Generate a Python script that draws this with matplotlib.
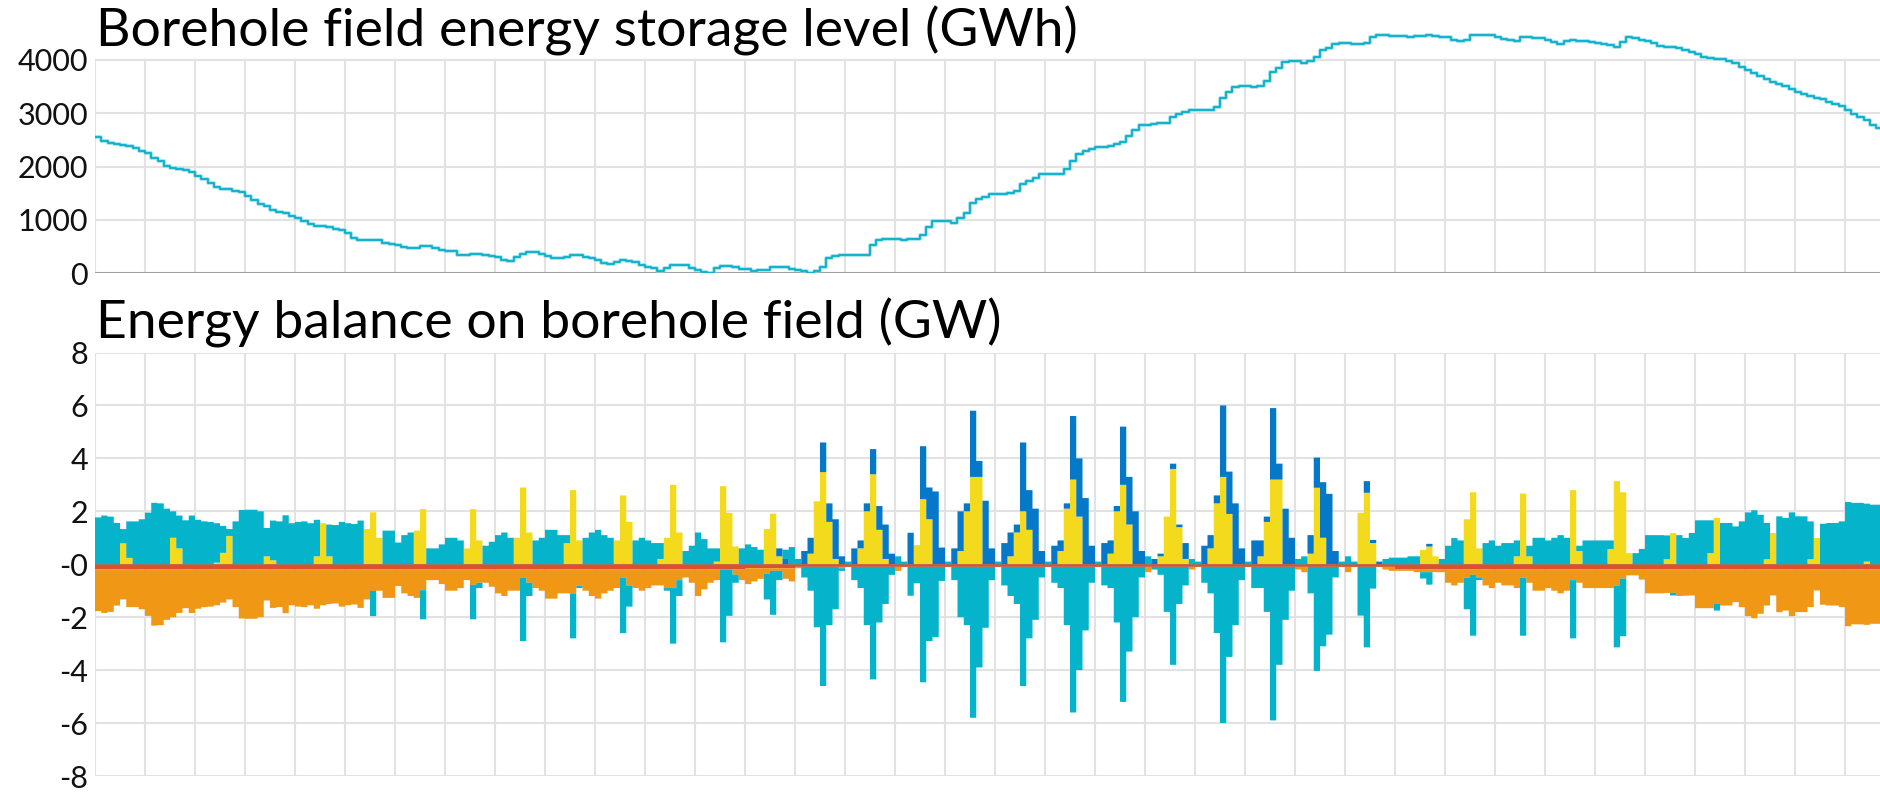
import numpy as np
import matplotlib
matplotlib.use("Agg")
import matplotlib.pyplot as plt

plt.rcParams['font.family'] = ['Lato', 'DejaVu Sans']

# ---------------- data ----------------
# storage level (GWh), one value per 3-hour step
storage = [
2550,2490,2450,2425,2400,2390,2345,2300,2255,2170,
2098,2016,1980,1953,1930,1909,1827,1760,1701,1625,
1590,1575,1545,1524,1449,1367,1300,1260,1184,1150,
1134,1080,1039,976,930,882,880,876,840,819,
756,661,617,617,630,630,567,545,523,490,
472,472,504,504,472,441,425,409,334,350,
365,365,346,320,302,252,239,300,365,391,
391,359,320,283,283,300,346,346,315,290,
252,189,176,208,252,230,208,157,126,94,
44,107,157,157,150,94,63,31,13,94,
139,130,113,90,76,50,55,63,113,113,
113,80,63,50,13,50,126,283,320,334,
334,334,340,346,535,630,640,643,640,630,
635,643,724,863,976,980,989,945,1039,1134,
1323,1386,1440,1493,1490,1480,1510,1543,1669,1732,
1795,1858,1865,1871,1871,1953,2110,2236,2290,2331,
2362,2362,2394,2420,2457,2583,2690,2784,2790,2803,
2816,2816,2929,2992,3030,3055,3055,3055,3055,3118,
3294,3402,3496,3505,3515,3496,3515,3603,3767,3855,
3968,3987,3987,3950,3981,4063,4189,4233,4296,4315,
4315,4300,4296,4328,4422,4460,4460,4441,4441,4441,
4422,4441,4450,4460,4441,4430,4422,4384,4359,4384,
4460,4460,4460,4460,4428,4390,4370,4359,4422,4422,
4415,4409,4372,4346,4302,4359,4378,4365,4359,4334,
4315,4300,4283,4252,4346,4422,4409,4384,4365,4315,
4265,4252,4240,4220,4189,4157,4107,4063,4031,4020,
4013,3981,3937,3874,3811,3748,3698,3641,3578,3559,
3515,3465,3402,3370,3320,3294,3263,3213,3181,3137,
3068,2992,2929,2866,2784,2721]

# energy balance (GW), one value per 3-hour step
yellow = [
0,0,0,0,0.79,0.24,0,0,
0,0,0,0,1.0,0.6,0,0,
0,0,0,0.06,0.43,1.07,0,0,
0,0,0,0.3,0.15,0,0,0,
0,0,0,0.3,1.55,0.3,0,0,
0,0,0,1.33,1.96,1.0,0,0,
0,0,0,1.27,2.08,0,0,0,
0,0,0,0.6,2.08,0.9,0,0,
0,0,0,1.0,2.9,1.2,0,0,
0,0,0,0.8,2.8,0.9,0,0,
0,0,0,0.9,2.6,1.6,0,0,
0,0,0.2,1.0,3.0,1.2,0,0,
0,0,0,0.1,2.95,1.94,0.67,0,
0,0,0,1.33,1.91,0.3,0,0,
0,0,0.4,2.38,3.48,1.6,0.2,0,
0,0,0.6,2.0,3.4,1.3,0.2,0,
0,0,0,0.72,2.46,1.7,0,0,
0,0,0.5,2.0,3.3,3.3,0,0,
0,0,0.3,1.2,2.0,1.3,0,0,
0,0,0.5,2.1,3.2,1.8,0,0,
0,0,0.4,2.0,3.0,1.5,0,0,
0,0,0.3,1.8,3.6,1.4,0.2,0,
0,0,0.6,2.3,3.3,1.9,0,0,
0,0,0.3,1.6,3.2,3.2,0,0,
0,0,0.4,2.89,1.0,0,0,0,
0,0,1.94,2.7,0.8,0,0,0,
0,0,0,0,0.54,0.67,0.3,0,
0,0,0,1.7,2.72,0.6,0,0,
0,0,0,0.3,2.67,0.3,0,0,
0,0,0,0,2.8,0.5,0,0,
0,0,0.57,3.14,2.72,0.42,0,0,
0,0,0,0.19,1.18,0,0,0,
0,0,0.42,1.75,0,0,0,0,
0,0,0,0.19,1.18,0,0,0,
0,0,0.19,0.99,0,0,0,0,
0,0,0,0.1,0,0]

blue = [0]*104 + [
0,0,0,0,0,0.3,0.2,0,
0,0.5,0.6,0,1.12,0.7,1.5,0.3,
0,0.6,0.3,0.3,0.95,0.9,1.3,0.4,
0,0,1.19,0,2.0,1.2,2.75,0.63,
0,0.6,1.5,0.3,2.5,0.6,2.4,0.6,
0,0.8,0.9,0.3,2.6,1.5,2.1,0.5,
0,0.7,0.4,0.2,2.4,2.2,2.5,0.7,
0,0.8,0.5,0.2,2.2,1.8,2.0,0.5,
0,0.2,0.1,0,0.2,0.1,0.6,0,
0,0.7,0.5,0.3,2.7,1.6,2.3,0.6,
0,0.9,0.6,0.2,2.7,0.6,2.1,1.0,
0,0,0.7,1.14,2.1,2.66,0.5,0,
0,0,0,0.44,0.12,0.1,0,0,
0,0,0,0,0,0.1,0,0] + [0]*70

red = [-0.2]*104 + [-0.15]*8 + [-0.1]*96 + [-0.2]*78

orange = [
-1.57,-1.64,-1.60,-1.36,-1.13,-1.42,-1.42,-1.50,
-1.75,-2.12,-2.10,-1.90,-1.80,-1.64,-1.46,-1.64,
-1.48,-1.42,-1.40,-1.35,-1.25,-1.13,-1.42,-1.85,
-1.86,-1.86,-1.80,-1.17,-1.45,-1.42,-1.65,-1.35,
-1.40,-1.42,-1.35,-1.48,-1.35,-1.30,-1.28,-1.40,
-1.35,-1.32,-1.45,-1.13,-0.81,-0.80,-1.07,-1.07,
-0.62,-0.90,-1.00,-1.07,-0.78,-0.40,-0.40,-0.55,
-0.80,-0.80,-0.70,-0.40,-0.58,-0.50,-0.50,-0.65,
-0.90,-1.00,-0.80,-0.80,-0.30,-0.50,-0.70,-0.80,
-1.10,-1.10,-0.90,-0.90,-0.90,-0.60,-0.80,-1.00,
-1.10,-0.90,-0.80,-0.70,-0.30,-0.60,-0.70,-0.80,
-0.70,-0.60,-0.60,-0.70,-0.70,-0.40,-0.30,-0.50,
-1.00,-0.75,-0.50,-0.40,0,0,-0.20,-0.40,
-0.60,-0.50,-0.40,-0.20,-0.10,-0.10,-0.40,-0.50,
-0.05,0,0,0,0,0,0,-0.05,
0,0,0,0,0,0,0,0,
-0.15,0,0,0,0,0,0,0,
0,0,0,0,0,0,0,0,
0,0,0,0,0,0,0,0,
0,0,0,0,0,0,0,0,
0,0,0,0,0,0,0,0,
-0.2,0,0,0,0,0,0,-0.1,
0,0,0,0,0,0,0,0,
0,0,0,0,0,0,0,0,
-0.1,-0.2,0,0,0,0,0,0,
-0.2,0,0,0,0,0,-0.1,-0.15,
-0.05,-0.05,-0.05,-0.1,-0.1,-0.1,-0.1,-0.1,
-0.5,-0.6,-0.5,-0.3,-0.2,-0.3,-0.6,-0.7,
-0.5,-0.6,-0.6,-0.7,-0.3,-0.5,-0.8,-0.8,
-0.7,-0.8,-0.9,-0.8,-0.4,-0.5,-0.7,-0.7,
-0.7,-0.7,-0.7,-0.6,-0.34,-0.22,-0.22,-0.38,
-0.9,-0.9,-0.9,-0.89,-0.88,-1.0,-0.99,-0.98,
-1.46,-1.46,-1.46,-1.3,-1.36,-1.36,-1.23,-1.42,
-1.76,-1.84,-1.67,-1.36,-0.98,-1.61,-1.55,-1.76,
-1.61,-1.61,-1.42,-0.79,-1.33,-1.36,-1.36,-1.42,
-2.14,-2.07,-2.07,-2.09,-2.05,-2.05]

teal = [
1.77,1.84,1.80,1.56,0.54,1.38,1.62,1.70,
1.95,2.32,2.30,2.10,1.00,1.24,1.66,1.84,
1.68,1.62,1.60,1.49,1.02,0.26,1.62,2.05,
2.06,2.06,2.00,1.07,1.50,1.62,1.85,1.55,
1.60,1.62,1.55,1.38,0.00,1.20,1.48,1.60,
1.55,1.52,1.65,0.00,-0.95,0.00,1.27,1.27,
0.82,1.10,1.20,0.00,-1.10,0.60,0.60,0.75,
1.00,1.00,0.90,0.00,-1.30,-0.20,0.70,0.85,
1.10,1.20,1.00,0.00,-2.40,-0.50,0.90,1.00,
1.30,1.30,1.10,0.30,-1.70,-0.10,1.00,1.20,
1.30,1.10,1.00,0.00,-2.10,-0.80,0.90,1.00,
0.90,0.80,0.60,-0.10,-2.10,-0.60,0.50,0.70,
1.20,0.95,0.60,0.50,-2.75,-1.75,-0.30,0.60,
0.75,0.65,0.55,-0.98,-1.66,-0.35,0.35,0.65,
0.20,-0.40,-0.90,-2.28,-4.50,-2.20,-1.60,-0.10,
0.10,-0.50,-0.80,-2.20,-4.25,-2.10,-1.40,-0.30,
0.30,0.10,-1.09,-0.62,-4.36,-2.80,-2.65,-0.53,
0.10,-0.50,-1.90,-2.20,-5.70,-3.80,-2.30,-0.50,
0.10,-0.70,-1.10,-1.40,-4.50,-2.70,-2.00,-0.40,
0.10,-0.60,-0.80,-2.20,-5.50,-3.90,-2.40,-0.60,
0.10,-0.70,-0.80,-2.10,-5.10,-3.20,-1.90,-0.40,
0.30,-0.10,-0.30,-1.70,-3.70,-1.40,-0.70,0.20,
0.10,-0.60,-1.00,-2.50,-5.90,-3.40,-2.20,-0.50,
0.10,-0.80,-0.80,-1.70,-5.80,-3.70,-2.00,-0.90,
0.20,0.30,-1.00,-3.93,-3.00,-2.56,-0.40,0.10,
0.30,0.10,-1.84,-3.04,-0.82,0.00,0.20,0.25,
0.25,0.25,0.30,0.30,-0.24,-0.47,0.00,0.20,
0.70,0.99,0.90,-1.20,-2.30,-0.10,0.80,0.90,
0.70,0.80,0.80,0.60,-2.20,0.40,1.00,1.00,
0.90,1.00,1.10,1.00,-2.20,0.20,0.90,0.90,
0.90,0.90,0.33,-2.34,-2.18,0.00,0.42,0.58,
1.10,1.10,1.10,0.90,-0.10,1.10,0.99,1.18,
1.66,1.66,1.24,-0.25,1.56,1.56,1.43,1.62,
1.96,2.04,1.87,1.37,0.00,1.81,1.75,1.96,
1.81,1.81,1.43,0.00,1.53,1.56,1.56,1.62,
2.35,2.32,2.32,2.19,2.25,2.25]

storage_ticks = [0, 1000, 2000, 3000, 4000]
balance_ticks = [-8, -6, -4, -2, 0, 2, 4, 6, 8]
balance_labels = ['-8', '-6', '-4', '-2', '-0', '2', '4', '6', '8']
title_top = "Borehole field energy storage level (GWh)"
title_bottom = "Energy balance on borehole field (GW)"

# ---------------- styling ----------------
C_TEAL = '#05B3CB'
C_YELLOW = '#F3DA1C'
C_BLUE = '#0578C8'
C_RED = '#D9512F'
C_ORANGE = '#F09715'
C_GRID = '#E2E2E2'
STEPS_PER_DAY = 8

W, H = 1880, 793
fig = plt.figure(figsize=(W / 100, H / 100), dpi=100)

n = len(storage)
xmax = 285.6
x = np.arange(n)
xs = np.arange(n + 1)

def px_axes(left, top, right, bottom):
    return fig.add_axes([left / W, 1 - bottom / H, (right - left) / W, (bottom - top) / H])

def ext(a):
    a = np.asarray(a, dtype=float)
    return np.append(a, a[-1])

# ---- top axes ----
ax1 = px_axes(95, 28.0, 1880, 273.3)
ax1.set_xlim(0, xmax)
ax1.set_ylim(0, 4600)
ys = ext(storage)
ax1.step(xs, ys, where='post', color='#7FD6E4', lw=2.6, zorder=3, alpha=0.8)
ax1.step(xs, ys, where='post', color='#08B0C9', lw=1.3, zorder=4)
ax1.set_yticks(storage_ticks)
ax1.set_yticklabels([str(t) for t in storage_ticks])
for t in storage_ticks[1:]:
    ax1.axhline(t, color=C_GRID, lw=1.5, zorder=0)
ax1.axhline(0, color='#A0A0A0', lw=1.5, zorder=2)
for xv in np.arange(0, xmax, STEPS_PER_DAY):
    ax1.plot([xv, xv], [0, 4000], color=C_GRID, lw=1.5, zorder=0)

# ---- bottom axes ----
ax2 = px_axes(95, 352.5, 1880, 776)
ax2.set_xlim(0, xmax)
ax2.set_ylim(-8, 8)
for t in balance_ticks:
    ax2.axhline(t, color=C_GRID, lw=1.5, zorder=0)
for xv in np.arange(0, xmax, STEPS_PER_DAY):
    ax2.axvline(xv, color=C_GRID, lw=1.5, zorder=0)
ax2.axhline(0, color='#A0A0A0', lw=1.0, zorder=1)

# relative stacking: positives stack upward, negatives downward, in series order
pos_bottom = np.zeros(n)
neg_bottom = np.zeros(n)
for vals, col in [(yellow, C_YELLOW), (blue, C_BLUE), (red, C_RED),
                  (orange, C_ORANGE), (teal, C_TEAL)]:
    v = np.asarray(vals, dtype=float)
    p = np.where(v > 0, v, 0.0)
    q = np.where(v < 0, v, 0.0)
    if p.any():
        ax2.fill_between(xs, ext(pos_bottom), ext(pos_bottom + p), step='post',
                         facecolor=col, edgecolor='none', linewidth=0, zorder=3)
    if q.any():
        ax2.fill_between(xs, ext(neg_bottom), ext(neg_bottom + q), step='post',
                         facecolor=col, edgecolor='none', linewidth=0, zorder=3)
    pos_bottom += p
    neg_bottom += q

ax2.set_yticks(balance_ticks)
ax2.set_yticklabels(balance_labels)

for ax in (ax1, ax2):
    for s in ax.spines.values():
        s.set_visible(False)
    ax.set_xticks([])
    ax.tick_params(axis='y', length=0, pad=5, labelsize=22, labelcolor='#111111')
    ax.set_facecolor('none')

fig.text(96 / W, 1 - 47 / H, title_top, fontsize=38.5, va='baseline', ha='left', color='black')
fig.text(96 / W, 1 - 338 / H, title_bottom, fontsize=38.5, va='baseline', ha='left', color='black')

fig.savefig('out.png', dpi=100)
